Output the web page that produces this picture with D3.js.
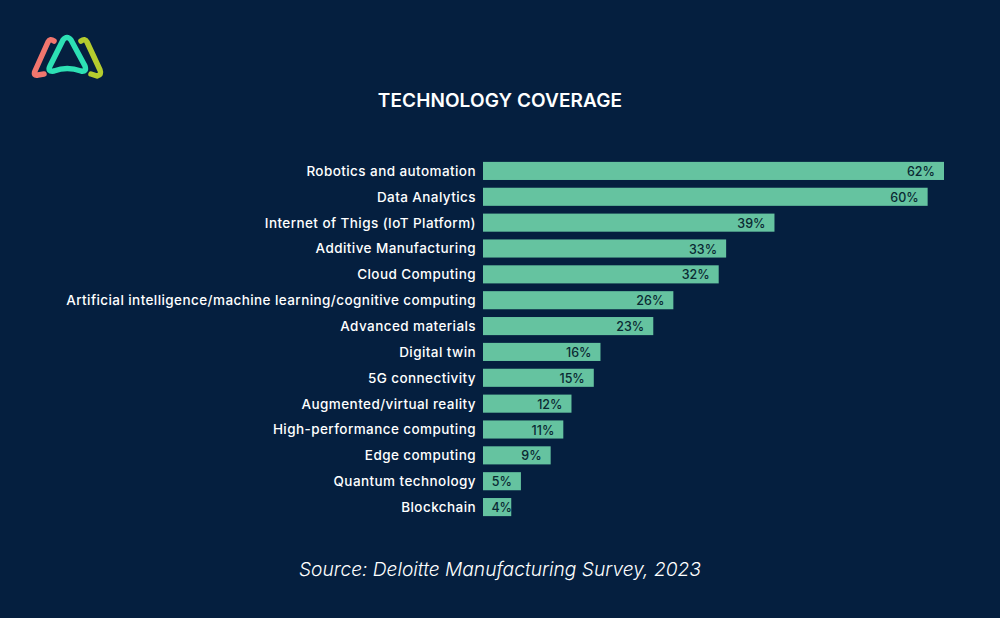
<!DOCTYPE html>
<html>
<head>
<meta charset="utf-8">
<script src="https://cdn.jsdelivr.net/npm/d3@7"></script>
<style>
  html, body { margin: 0; padding: 0; background: #051f3f; }
  svg { display: block; }
</style>
</head>
<body>
<div id="chart"></div>
<script>
const categories = [
  "Robotics and automation",
  "Data Analytics",
  "Internet of Thigs (IoT Platform)",
  "Additive Manufacturing",
  "Cloud Computing",
  "Artificial intelligence/machine learning/cognitive computing",
  "Advanced materials",
  "Digital twin",
  "5G connectivity",
  "Augmented/virtual reality",
  "High-performance computing",
  "Edge computing",
  "Quantum technology",
  "Blockchain",
];
// bar lengths, labels are these rounded
const values = [62, 59.8, 39.2, 32.7, 31.7, 25.6, 22.9, 15.8, 14.9, 11.9, 10.8, 9.1, 5.1, 3.8];

const width = 1000;
const height = 618;
const labelFont = "Inter, sans-serif";

const svg = d3
  .select("#chart")
  .append("svg")
  .attr("width", width)
  .attr("height", height);

svg.append("rect").attr("width", width).attr("height", height).attr("fill", "#051f3f");

const x = d3.scaleLinear().domain([0, 62]).range([483, 944]);
const y = d3
  .scaleBand()
  .domain(categories)
  .range([158, 520])
  .paddingInner(0.3)
  .paddingOuter(0.15);

// ── Bars ──
svg
  .append("g")
  .selectAll("rect")
  .data(values)
  .join("rect")
  .attr("x", x(0))
  .attr("y", (d, i) => y(categories[i]))
  .attr("width", (d) => x(d) - x(0))
  .attr("height", y.bandwidth())
  .attr("fill", "#65c3a0");

// ── Category labels ──
svg
  .append("g")
  .attr("transform", "translate(476,0.6)")
  .call(d3.axisLeft(y).tickSize(0).tickPadding(0))
  .call((g) => g.select(".domain").remove())
  .selectAll("text")
  .attr("fill", "#ffffff")
  .attr("font-family", labelFont)
  .attr("font-size", "13.5px")
  .attr("font-weight", "500")
  .attr("letter-spacing", "0.42px");

// ── Value labels ──
// short bars keep the label inside the bar instead of the usual inset
svg
  .append("g")
  .selectAll("text")
  .data(values)
  .join("text")
  .attr("x", (d) => Math.max(x(d) - 9, 512))
  .attr("y", (d, i) => y(categories[i]) + y.bandwidth() / 2 + 5)
  .attr("text-anchor", "end")
  .attr("fill", "#0a2a33")
  .attr("font-family", labelFont)
  .attr("font-size", "12.5px")
  .attr("font-weight", "500")
  .text((d) => `${Math.round(d)}%`);

// ── Title and source ──
svg
  .append("text")
  .attr("x", 500)
  .attr("y", 107)
  .attr("text-anchor", "middle")
  .attr("fill", "#ffffff")
  .attr("font-family", labelFont)
  .attr("font-size", "19px")
  .attr("font-weight", "600")
  .attr("letter-spacing", "0.1px")
  .text("TECHNOLOGY COVERAGE");

svg
  .append("text")
  .attr("x", 500)
  .attr("y", 575.5)
  .attr("text-anchor", "middle")
  .attr("fill", "#ffffff")
  .attr("font-family", labelFont)
  .attr("font-size", "19.2px")
  .attr("font-style", "italic")
  .attr("font-weight", "300")
  .text("Source: Deloitte Manufacturing Survey, 2023");

// ── Logo ──
const logo = svg
  .append("g")
  .attr("fill", "none")
  .attr("stroke-width", 5.5)
  .attr("stroke-linecap", "round")
  .attr("stroke-linejoin", "round");

logo.append("path").attr("stroke", "#f2766e").attr("d", "M54 41 Q50 38 48 42 L35 71 Q33 76 38 75 L44 74");
logo.append("path").attr("stroke", "#b5cc2e").attr("d", "M81 41 Q85 38 87 42 L100 70 Q102 75 97 76 L91 74");
logo.append("path").attr("stroke", "#2de0b4").attr("d", "M63 40 Q67 35 71 40 L85 66 Q87 72 81 71 Q67 66 54 71 Q47 72 50 66 Z");
</script>
</body>
</html>
